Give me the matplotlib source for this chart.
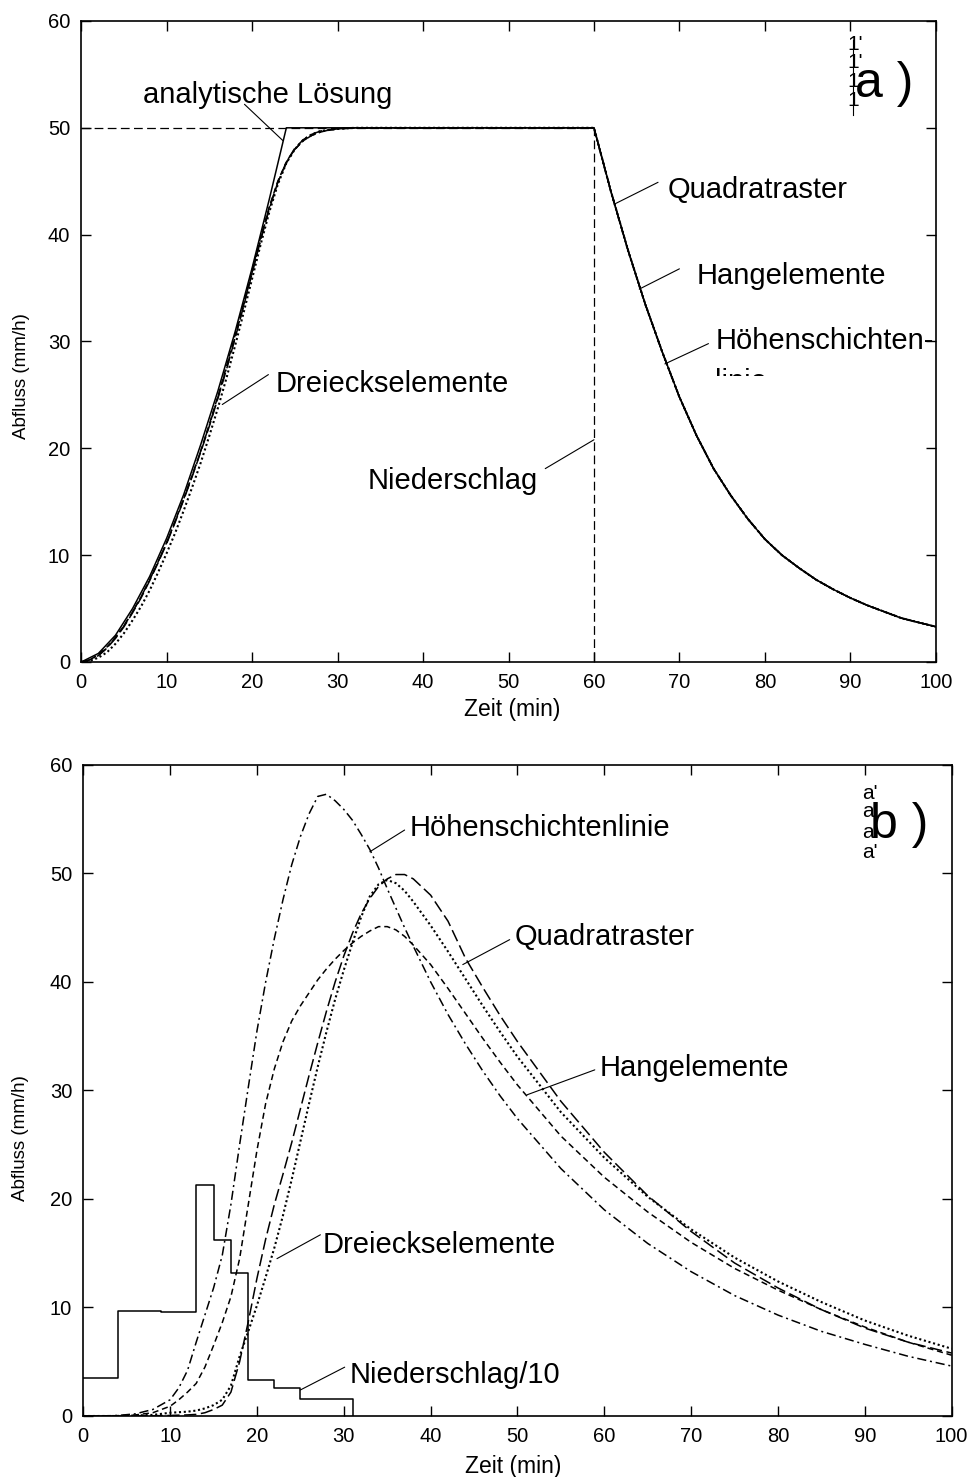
import matplotlib
matplotlib.use('Agg')
import matplotlib.pyplot as plt
from matplotlib import rc
from matplotlib.transforms import Bbox, TransformedBbox

rc('font', family=['Liberation Sans', 'DejaVu Sans'], size=14)
rc('xtick', labelsize=14.5)
rc('ytick', labelsize=14.5)

# ---- panel a): constant rain, 50 mm/h for 60 min ----
t_rise = [0, 1, 2, 3, 4, 5, 6, 7, 8, 9, 10, 11, 12, 13, 14, 15, 16, 17, 18, 19,
          20, 21, 22, 23, 24, 25, 26, 27, 28, 29, 30, 32, 34, 36, 40, 45, 50, 55]
q_quad_a = [0, 0.2, 0.6, 1.3, 2.2, 3.3, 4.6, 6.0, 7.6, 9.3, 11.1, 13.1, 15.2, 17.4,
            19.7, 22.1, 24.7, 27.4, 30.3, 33.3, 36.4, 39.5, 42.4, 44.9, 46.8, 48.1,
            48.9, 49.4, 49.7, 49.8, 49.9, 50, 50, 50, 50, 50, 50, 50]
q_hang_a = [0, 0.2, 0.7, 1.4, 2.3, 3.4, 4.7, 6.1, 7.7, 9.4, 11.2, 13.2, 15.3, 17.5,
            19.8, 22.3, 24.9, 27.7, 30.6, 33.6, 36.7, 39.8, 42.6, 45.0, 46.8, 48.0,
            48.8, 49.3, 49.6, 49.8, 49.9, 50, 50, 50, 50, 50, 50, 50]
q_hoehe_a = [0, 0.2, 0.6, 1.3, 2.3, 3.4, 4.7, 6.1, 7.7, 9.4, 11.2, 13.2, 15.3, 17.5,
             19.8, 22.2, 24.8, 27.5, 30.4, 33.4, 36.5, 39.6, 42.5, 44.9, 46.7, 48.0,
             48.8, 49.3, 49.6, 49.8, 49.9, 50, 50, 50, 50, 50, 50, 50]
q_drei_a = [0, 0.1, 0.4, 0.9, 1.7, 2.7, 3.9, 5.2, 6.7, 8.4, 10.2, 12.1, 14.2, 16.4,
            18.7, 21.2, 23.8, 26.6, 29.6, 32.7, 35.9, 39.1, 42.1, 44.7, 46.7, 48.0,
            48.9, 49.4, 49.7, 49.8, 49.9, 50, 50, 50, 50, 50, 50, 50]

t_fall = [60, 62, 64, 66, 68, 70, 72, 74, 76, 78, 80, 82, 84, 86, 88, 90, 92, 94, 96, 98, 100]
q_fall = [50, 44.0, 38.5, 33.5, 29.0, 24.8, 21.2, 18.1, 15.6, 13.4, 11.5, 10.0, 8.8,
          7.7, 6.8, 6.0, 5.3, 4.7, 4.1, 3.7, 3.3]

t_anal = [0, 2, 4, 6, 8, 10, 12, 14, 16, 18, 20, 22, 24]
q_anal = [0, 0.8, 2.5, 5.0, 8.0, 11.6, 15.7, 20.4, 25.4, 30.9, 36.9, 43.3, 50]

t_rain_a = [0, 60, 60]
q_rain_a = [50, 50, 0]

# ---- panel b): measured storm ----
t_b = [0, 2, 4, 6, 8, 10, 11, 12, 13, 14, 15, 16, 17, 18, 19, 20, 21, 22, 23, 24,
       25, 26, 27, 28, 29, 30, 31, 32, 33, 34, 35, 36, 37, 38, 40, 42, 44, 46, 48,
       50, 55, 60, 65, 70, 75, 80, 85, 90, 95, 100]
q_hoehe_b = [0, 0, 0.05, 0.2, 0.6, 1.5, 2.6, 4.2, 6.8, 9.3, 11.8, 14.8, 19.5, 25.0,
             30.3, 35.5, 40.0, 44.0, 47.6, 50.8, 53.4, 55.5, 57.1, 57.3, 56.7, 55.9,
             54.9, 53.6, 52.2, 50.5, 48.6, 46.8, 45.0, 43.3, 40.0, 37.0, 34.3, 31.8,
             29.5, 27.4, 22.8, 19.0, 15.9, 13.3, 11.1, 9.3, 7.8, 6.6, 5.5, 4.6]
q_hang_b = [0, 0, 0.03, 0.1, 0.3, 0.9, 1.5, 2.2, 3.0, 4.5, 6.5, 8.6, 11.0, 14.5,
            19.5, 24.5, 28.8, 32.0, 34.5, 36.4, 37.8, 39.0, 40.2, 41.2, 42.1, 42.9,
            43.6, 44.2, 44.7, 45.1, 45.1, 44.8, 44.2, 43.4, 41.6, 39.4, 37.1, 34.8,
            32.6, 30.5, 25.8, 22.0, 18.8, 16.0, 13.6, 11.6, 9.8, 8.2, 6.8, 5.6]
q_quad_b = [0, 0, 0, 0, 0.02, 0.05, 0.08, 0.1, 0.15, 0.3, 0.6, 1.0, 2.2, 5.0, 8.7,
            12.7, 16.3, 19.5, 22.3, 25.2, 28.3, 31.4, 34.4, 37.3, 40.0, 42.4, 44.5,
            46.3, 47.7, 48.8, 49.5, 49.9, 49.9, 49.5, 48.0, 45.6, 42.2, 39.5, 36.9,
            34.5, 29.0, 24.3, 20.3, 17.0, 14.1, 11.8, 9.8, 8.1, 6.8, 5.8]
q_drei_b = [0, 0, 0, 0.05, 0.1, 0.3, 0.35, 0.4, 0.5, 0.7, 1.0, 1.5, 2.8, 5.5, 7.8,
            10.2, 12.8, 15.5, 18.5, 21.8, 25.3, 28.8, 32.2, 35.4, 38.4, 41.1, 43.6,
            46.0, 47.9, 49.0, 49.4, 49.1, 48.4, 47.4, 45.2, 42.8, 40.3, 37.8, 35.4,
            33.1, 28.0, 23.8, 20.2, 17.2, 14.6, 12.4, 10.5, 8.8, 7.4, 6.2]

t_rain_b = [0, 4, 9, 13, 15, 17, 19, 22, 25, 31, 31]
q_rain_b = [3.5, 9.7, 9.55, 21.3, 16.2, 13.2, 3.3, 2.6, 1.6, 0, 0]

LINE = dict(color='black', lw=1.1)
STY = {'quad': (8, 3), 'hang': (4, 2.5), 'hoehe': (6, 2.5, 1.3, 2.5), 'drei': (1, 1.3)}
FS = 21


def leader(ax, start, end):
    ax.annotate('', xy=end, xytext=start,
                arrowprops=dict(arrowstyle='-', lw=0.8, color='black',
                                shrinkA=0, shrinkB=0))


def label(ax, txt, pos, start, end):
    ax.text(pos[0], pos[1], txt, fontsize=FS, va='center', ha='left')
    leader(ax, start, end)


def style_axes(ax):
    ax.set_xlim(0, 100)
    ax.set_ylim(0, 60)
    ax.set_xticks(range(0, 101, 10))
    ax.set_yticks(range(0, 61, 10))
    for axis in ['top', 'bottom', 'left', 'right']:
        ax.spines[axis].set_linewidth(1.2)
    ax.tick_params(direction='in', length=7, width=1, top=True, right=True, pad=8)
    ax.set_xlabel('Zeit (min)', fontsize=16.5)
    ax.set_ylabel('Abfluss (mm/h)', fontsize=13.5)


def graph():
    fig = plt.figure(figsize=(9.71, 14.77), dpi=100)
    ax1 = fig.add_axes([0.0837, 0.5518, 0.880, 0.434])
    ax2 = fig.add_axes([0.0858, 0.0413, 0.8943, 0.4408])

    # panel a
    ax1.plot(t_rain_a, q_rain_a, dashes=(7, 3.5), color='black', lw=0.9)
    ax1.plot(t_anal + t_fall, q_anal + q_fall, **LINE)
    ax1.plot(t_rise + t_fall, q_quad_a + q_fall, dashes=STY['quad'], **LINE)
    ax1.plot(t_rise + t_fall, q_hang_a + q_fall, dashes=STY['hang'], **LINE)
    ax1.plot(t_rise + t_fall, q_hoehe_a + q_fall, dashes=STY['hoehe'], **LINE)
    ax1.plot(t_rise + t_fall, q_drei_a + q_fall, dashes=STY['drei'], color='black', lw=1.5)
    style_axes(ax1)
    ax1.xaxis.set_label_coords(0.504, -0.056)
    ax1.yaxis.set_label_coords(-0.060, 0.446)

    label(ax1, 'analytische Lösung', (7.2, 53.1), (19.1, 52.2), (23.6, 48.8))
    label(ax1, 'Quadratraster', (68.6, 44.2), (67.5, 44.9), (62.5, 42.9))
    label(ax1, 'Hangelemente', (72.0, 36.1), (70.0, 36.8), (65.3, 34.9))
    label(ax1, 'Höhenschichten-', (74.2, 30.0), (73.4, 29.8), (68.3, 27.9))
    t = ax1.text(74.2, 27.55, 'linie', fontsize=FS, va='top', ha='left')
    t.set_clip_on(True)
    t.set_clip_box(TransformedBbox(Bbox([[73, 26.75], [95, 28]]), ax1.transData))
    label(ax1, 'Dreieckselemente', (22.7, 26.0), (21.9, 26.9), (16.5, 24.1))
    label(ax1, 'Niederschlag', (33.5, 16.9), (54.3, 18.1), (60, 20.8))
    for yy in [57.8, 56.1, 54.3, 52.6]:
        ax1.text(89.7, yy, "1'", fontsize=15, va='center', ha='left')
    ax1.axvline(90.3, ymin=51.2 / 60, ymax=58.2 / 60, color='black', lw=0.8)
    ax1.text(90.5, 54.1, 'a )', fontsize=36, va='center', ha='left')

    # panel b
    ax2.step(t_rain_b, q_rain_b, where='post', **LINE)
    ax2.plot(t_b, q_quad_b, dashes=STY['quad'], **LINE)
    ax2.plot(t_b, q_hang_b, dashes=STY['hang'], **LINE)
    ax2.plot(t_b, q_hoehe_b, dashes=STY['hoehe'], **LINE)
    ax2.plot(t_b, q_drei_b, dashes=STY['drei'], color='black', lw=1.5)
    style_axes(ax2)
    ax2.xaxis.set_label_coords(0.495, -0.060)
    ax2.yaxis.set_label_coords(-0.062, 0.427)

    label(ax2, 'Höhenschichtenlinie', (37.6, 54.2), (37.0, 54.0), (33.0, 52.0))
    label(ax2, 'Quadratraster', (49.7, 44.1), (49.1, 43.9), (43.7, 41.6))
    label(ax2, 'Hangelemente', (59.5, 32.1), (58.9, 31.9), (51.1, 29.6))
    label(ax2, 'Dreieckselemente', (27.6, 15.8), (27.3, 16.7), (22.3, 14.5))
    label(ax2, 'Niederschlag/10', (30.7, 3.8), (30.1, 4.5), (25.0, 2.4))
    for yy in [57.4, 55.7, 53.8, 51.9]:
        ax2.text(89.7, yy, "a'", fontsize=15, va='center', ha='left')
    ax2.text(90.6, 54.5, 'b )', fontsize=36, va='center', ha='left')

    plt.savefig('out.png', dpi=100)


if __name__ == '__main__':
    graph()
